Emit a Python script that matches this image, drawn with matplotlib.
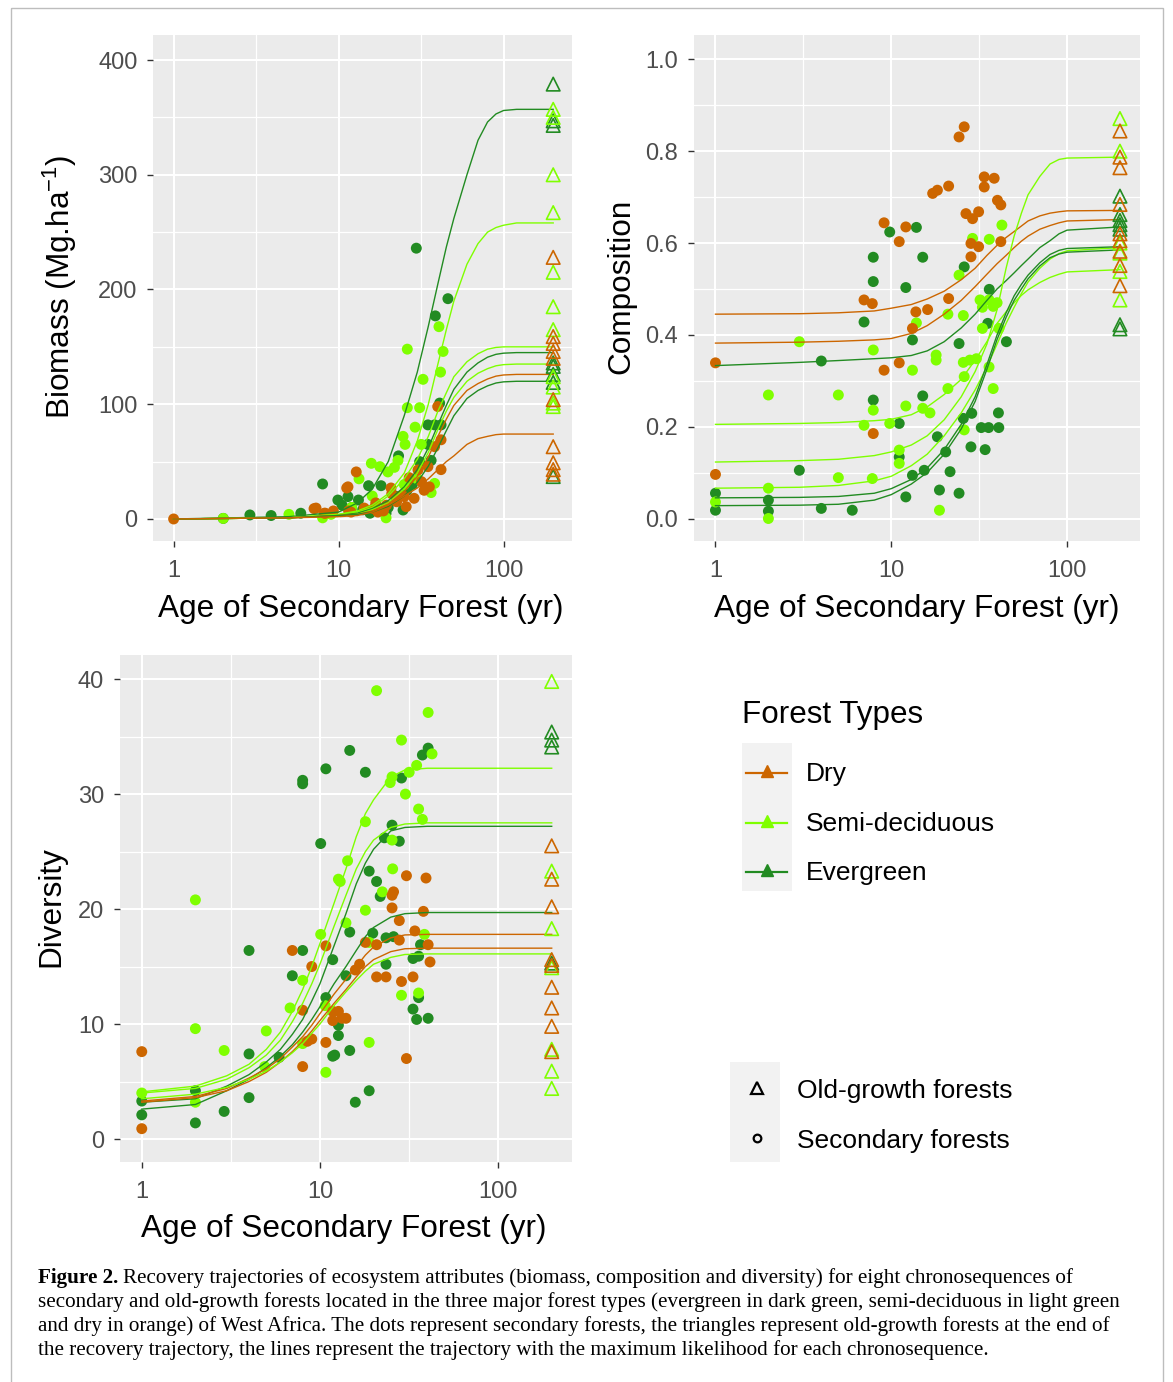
import matplotlib
matplotlib.use("Agg")
import matplotlib.pyplot as plt
from matplotlib.patches import Rectangle
from matplotlib.ticker import NullFormatter

# ---------------- DATA ----------------
FOREST_TYPES = ["Dry", "Semi-deciduous", "Evergreen"]
TYPE_COLORS = ["#CC6600", "#7FFF00", "#228B22"]
OG_AGE = 200  # old-growth plotted at end of trajectory

# Biomass: secondary forests (age, Mg/ha)
BIO_SEC_DRY = [(1, 0), (7.1, 9), (7.3, 9.5), (8.2, 5), (8.3, 5), (9.3, 7), (11.2, 27), (11.4, 28), (11.5, 7),
               (11.9, 6), (12.8, 41), (14.3, 9.5), (16.3, 9), (16.8, 14), (17.3, 6), (18.7, 7), (20.8, 27),
               (22.5, 15), (23.8, 20), (25, 19.5), (25.7, 10.7), (26.8, 36), (28.7, 18), (30.3, 42.7),
               (31.8, 32.5), (33, 25), (34.8, 45.6), (35.5, 28), (38.2, 63), (39.9, 98), (41.8, 69),
               (41.8, 43), (21, 22), (19.5, 12)]
BIO_SEC_SEMI = [(2, 0.5), (5, 4), (8, 1), (9, 4), (13.3, 35), (15.8, 48.5), (17.8, 45.6), (19.4, 1), (19.9, 41),
                (21.8, 45), (22.9, 51), (24.6, 72), (25.3, 65), (26.1, 148), (26.1, 97), (29.1, 80), (31, 97),
                (31.7, 65), (32.5, 121.7), (36.4, 23), (38.2, 31), (40.6, 167.6), (41.5, 128), (43, 146),
                (12, 10), (16, 20), (30, 35), (25, 30)]
BIO_SEC_EVER = [(2, 0.5), (2.9, 3.5), (3.9, 3), (5.9, 5), (8.0, 30.5), (9.9, 16.5), (10.5, 12), (11.4, 19.5),
                (12, 10), (13.2, 16.5), (14, 8), (15.2, 29), (15.5, 5), (18.1, 29), (19.4, 5), (20, 10),
                (23.1, 55), (24.6, 7.8), (26, 25), (29.6, 236), (31, 50), (34.8, 82), (34.8, 65), (36.4, 51),
                (38.2, 82), (38.6, 177), (41.8, 82), (41, 101), (46, 192), (28, 30), (22, 20)]
BIO_OG_DRY = [228, 159, 153, 146, 140, 104, 63, 49, 43, 39]
BIO_OG_SEMI = [357, 350, 300, 267, 215, 185, 165, 124, 115, 101, 98]
BIO_OG_EVER = [379, 347, 343, 136, 133, 126, 119, 37]
BIO_CURVE_AGES = [1, 5, 10, 13, 16, 20, 25, 30, 35, 40, 45, 50, 60, 70, 80, 90, 100, 120, 200]
BIO_CURVES = [
    ("Evergreen",      [0, 2, 6, 14, 26, 50, 90, 128, 168, 205, 237, 262, 300, 330, 346, 353, 356, 357, 357]),
    ("Semi-deciduous", [0, 1, 4, 7, 12, 22, 40, 68, 100, 135, 165, 190, 222, 240, 250, 254, 256, 258, 258]),
    ("Semi-deciduous", [0, 1, 4, 6, 10, 20, 35, 52, 72, 94, 110, 124, 137, 144, 148, 149.5, 150, 150, 150]),
    ("Evergreen",      [0, 1, 3, 5, 9, 16, 28, 43, 62, 82, 99, 113, 128, 136, 141, 143.5, 144.5, 145, 145]),
    ("Semi-deciduous", [0, 1, 3, 4, 8, 14, 26, 40, 58, 78, 94, 106, 120, 127, 131, 133.5, 134.5, 135, 135]),
    ("Dry",            [0, 1, 3, 4, 7, 13, 24, 37, 54, 72, 87, 99, 112, 118, 122, 124.5, 125.5, 126, 126]),
    ("Evergreen",      [0, 1, 3, 4, 6, 11, 20, 32, 46, 62, 77, 90, 105, 112, 116, 118.5, 119.5, 120, 120]),
    ("Dry",            [0, 1, 2, 3, 6, 12, 20, 27, 35, 43, 50, 55, 65, 70, 72, 73.5, 74, 74, 74]),
]

# Composition
COMP_SEC_DRY = [(26.0, 0.853), (24.3, 0.831), (33.8, 0.744), (38.5, 0.741), (33.8, 0.722), (17.2, 0.708),
                (18.3, 0.715), (21.2, 0.724), (40.2, 0.693), (42.0, 0.683), (26.6, 0.664), (29.0, 0.653),
                (31.4, 0.668), (9.1, 0.644), (12.1, 0.635), (11.1, 0.603), (28.4, 0.599), (31.4, 0.592),
                (42.0, 0.603), (28.4, 0.570), (7.0, 0.476), (7.8, 0.468), (13.8, 0.450), (16.1, 0.455),
                (21.2, 0.479), (13.2, 0.414), (1.0, 0.339), (9.1, 0.323), (11.1, 0.339), (7.9, 0.185),
                (1.0, 0.096)]
COMP_SEC_SEMI = [(42.6, 0.639), (36.1, 0.608), (29.0, 0.610), (24.3, 0.530), (32.0, 0.476), (36.0, 0.476),
                 (40.0, 0.470), (33.0, 0.460), (38.0, 0.462), (33.0, 0.414), (41.0, 0.414), (13.9, 0.426),
                 (21.0, 0.445), (25.7, 0.442), (3.0, 0.385), (7.9, 0.367), (18.0, 0.356), (18.0, 0.345),
                 (13.2, 0.323), (25.7, 0.340), (28.0, 0.345), (30.5, 0.348), (36.0, 0.330), (38.0, 0.283),
                 (2.0, 0.269), (5.0, 0.269), (7.9, 0.236), (12.1, 0.245), (15.1, 0.240), (16.6, 0.230),
                 (21.0, 0.283), (26.0, 0.309), (7.0, 0.203), (9.8, 0.207), (26.0, 0.193), (11.1, 0.149),
                 (11.1, 0.120), (7.8, 0.087), (5.0, 0.089), (2.0, 0.066), (1.0, 0.036), (2.0, 0.000),
                 (18.8, 0.018)]
COMP_SEC_EVER = [(9.8, 0.624), (13.9, 0.634), (7.9, 0.569), (15.1, 0.569), (7.9, 0.516), (12.1, 0.503),
                 (26.0, 0.548), (36.1, 0.499), (7.0, 0.428), (13.2, 0.389), (24.3, 0.381), (35.4, 0.425),
                 (45.2, 0.385), (4.0, 0.343), (7.9, 0.258), (15.1, 0.267), (11.1, 0.207), (28.7, 0.229),
                 (40.7, 0.230), (25.7, 0.218), (32.5, 0.198), (35.8, 0.198), (40.9, 0.198), (18.3, 0.178),
                 (20.4, 0.145), (28.4, 0.156), (34.2, 0.150), (11.1, 0.134), (3.0, 0.105), (21.6, 0.102),
                 (13.2, 0.094), (15.4, 0.105), (12.1, 0.047), (18.8, 0.062), (24.3, 0.055), (1.0, 0.055),
                 (1.0, 0.018), (2.0, 0.040), (2.0, 0.016), (4.0, 0.022), (6.0, 0.018)]
COMP_OG_DRY = [0.844, 0.787, 0.764, 0.684, 0.620, 0.605, 0.582, 0.551, 0.507]
COMP_OG_SEMI = [0.871, 0.800, 0.600, 0.578, 0.538, 0.476]
COMP_OG_EVER = [0.702, 0.662, 0.649, 0.640, 0.630, 0.422, 0.413]
COMP_CURVE_AGES = [1, 3, 5, 8, 10, 13, 16, 20, 25, 30, 35, 40, 45, 50, 55, 60, 70, 80, 90, 100, 200]
COMP_CURVES = [
    ("Dry",            [0.445, 0.446, 0.448, 0.452, 0.458, 0.466, 0.478, 0.495, 0.520, 0.545, 0.573, 0.595, 0.612, 0.625, 0.637, 0.648, 0.659, 0.665, 0.668, 0.670, 0.671]),
    ("Dry",            [0.382, 0.384, 0.386, 0.389, 0.392, 0.403, 0.420, 0.445, 0.475, 0.505, 0.532, 0.555, 0.573, 0.590, 0.604, 0.615, 0.630, 0.638, 0.644, 0.648, 0.651]),
    ("Evergreen",      [0.333, 0.340, 0.344, 0.348, 0.350, 0.355, 0.365, 0.385, 0.415, 0.445, 0.475, 0.500, 0.518, 0.535, 0.551, 0.565, 0.590, 0.605, 0.620, 0.628, 0.635]),
    ("Semi-deciduous", [0.205, 0.207, 0.209, 0.213, 0.216, 0.226, 0.243, 0.270, 0.303, 0.345, 0.385, 0.425, 0.450, 0.470, 0.486, 0.498, 0.514, 0.525, 0.532, 0.537, 0.542]),
    ("Semi-deciduous", [0.123, 0.126, 0.129, 0.137, 0.145, 0.160, 0.180, 0.215, 0.265, 0.320, 0.380, 0.455, 0.545, 0.615, 0.665, 0.705, 0.745, 0.772, 0.782, 0.785, 0.787]),
    ("Semi-deciduous", [0.066, 0.068, 0.072, 0.082, 0.092, 0.115, 0.140, 0.180, 0.230, 0.280, 0.330, 0.380, 0.425, 0.460, 0.490, 0.515, 0.545, 0.565, 0.577, 0.583, 0.590]),
    ("Evergreen",      [0.045, 0.046, 0.048, 0.055, 0.065, 0.085, 0.110, 0.150, 0.205, 0.265, 0.335, 0.400, 0.448, 0.485, 0.510, 0.530, 0.557, 0.575, 0.584, 0.588, 0.592]),
    ("Evergreen",      [0.028, 0.029, 0.031, 0.040, 0.052, 0.075, 0.100, 0.140, 0.195, 0.255, 0.325, 0.390, 0.438, 0.475, 0.500, 0.522, 0.550, 0.568, 0.576, 0.580, 0.585]),
]

# Diversity
DIV_SEC_DRY = [(30.6, 22.9), (39.4, 22.7), (25.9, 21.5), (25.4, 21.2), (25.4, 20.1), (27.9, 19.0), (38.1, 19.8),
               (27.9, 17.3), (34.1, 18.1), (40.5, 16.9), (18.0, 17.1), (20.8, 16.9), (10.8, 16.8), (7.0, 16.4),
               (16.7, 15.2), (15.8, 14.7), (9.0, 15.0), (41.5, 15.4), (20.8, 14.1), (23.5, 14.1), (28.7, 13.7),
               (33.3, 14.1), (11.8, 11.1), (12.7, 11.1), (13.3, 10.5), (11.8, 10.3), (14.0, 10.5), (8.0, 11.2),
               (9.0, 8.7), (8.5, 8.5), (10.8, 8.4), (8.0, 6.3), (30.6, 7.0), (1.0, 7.6), (1.0, 0.9)]
DIV_SEC_SEMI = [(20.8, 39.0), (40.5, 37.1), (28.7, 34.7), (34.9, 32.5), (31.7, 31.9), (42.6, 33.5), (25.4, 31.5),
                (24.8, 31.0), (30.2, 30.0), (35.8, 28.7), (37.6, 27.8), (18.0, 27.6), (25.4, 26.0), (14.3, 24.2),
                (12.7, 22.6), (13.0, 22.4), (25.6, 23.5), (2.0, 20.8), (18.0, 19.9), (22.4, 21.5), (14.0, 18.8),
                (10.1, 17.8), (18.9, 17.1), (38.6, 17.8), (8.0, 13.8), (28.7, 12.5), (35.8, 12.7), (6.8, 11.4),
                (10.7, 11.6), (2.0, 9.6), (5.0, 9.4), (2.9, 7.7), (18.9, 8.4), (8.0, 8.3), (10.8, 5.8),
                (4.9, 6.3), (2.0, 3.2), (1.0, 4.0)]
DIV_SEC_EVER = [(14.7, 33.8), (37.6, 33.4), (40.5, 34.0), (28.7, 31.4), (8.0, 31.2), (8.0, 30.9), (10.8, 32.2),
                (18.0, 31.9), (10.1, 25.7), (25.4, 27.3), (27.9, 25.9), (23.0, 26.2), (18.9, 23.3), (20.8, 22.4),
                (21.8, 21.1), (19.8, 17.9), (23.5, 17.5), (25.9, 17.6), (14.7, 18.0), (36.7, 16.9), (35.8, 15.9),
                (33.3, 15.7), (23.5, 15.2), (4.0, 16.4), (8.0, 16.4), (7.0, 14.2), (11.8, 15.6), (14.0, 14.2),
                (10.8, 12.3), (12.7, 9.0), (12.7, 9.9), (35.8, 12.3), (33.3, 11.3), (34.9, 10.4), (40.5, 10.5),
                (11.8, 7.2), (12.1, 7.3), (14.7, 7.7), (5.9, 7.1), (4.0, 7.4), (4.0, 3.6), (18.9, 4.2),
                (15.8, 3.2), (2.9, 2.4), (2.0, 4.2), (2.0, 1.4), (1.0, 3.3), (1.0, 2.1)]
DIV_OG_DRY = [25.5, 22.6, 20.2, 15.6, 15.1, 13.2, 11.4, 9.8, 7.6]
DIV_OG_SEMI = [39.8, 23.3, 18.3, 14.9, 7.8, 5.9, 4.4]
DIV_OG_EVER = [35.4, 34.7, 34.1, 15.3]
DIV_CURVE_AGES = [1, 2, 3, 4, 5, 6, 7, 8, 9, 10, 12, 14, 16, 18, 20, 25, 30, 40, 50, 200]
DIV_CURVES = [
    ("Semi-deciduous", [4.1, 4.6, 5.5, 6.5, 7.8, 9.3, 11.1, 13.0, 15.0, 17.0, 20.5, 23.5, 26.3, 28.3, 29.5, 31.5, 32.1, 32.25, 32.25, 32.25]),
    ("Semi-deciduous", [4.0, 4.4, 5.2, 6.2, 7.3, 8.6, 10.2, 11.8, 13.5, 15.2, 18.5, 21.2, 23.5, 25.0, 26.0, 27.1, 27.4, 27.5, 27.5, 27.5]),
    ("Evergreen",      [3.2, 3.5, 4.6, 5.6, 6.7, 7.8, 9.1, 10.4, 12.0, 13.5, 16.8, 19.6, 22.2, 24.0, 25.2, 26.8, 27.1, 27.2, 27.2, 27.2]),
    ("Evergreen",      [2.6, 3.0, 4.2, 5.2, 6.2, 7.2, 8.2, 9.3, 10.4, 11.5, 13.5, 15.0, 16.4, 17.6, 18.4, 19.3, 19.6, 19.7, 19.7, 19.7]),
    ("Dry",            [3.3, 3.7, 4.4, 5.3, 6.1, 7.0, 8.0, 8.9, 9.9, 10.9, 12.6, 13.9, 15.0, 16.0, 16.7, 17.5, 17.75, 17.8, 17.8, 17.8]),
    ("Dry",            [3.2, 3.6, 4.2, 5.0, 5.8, 6.7, 7.6, 8.5, 9.4, 10.3, 11.8, 13.0, 14.1, 15.0, 15.6, 16.3, 16.55, 16.6, 16.6, 16.6]),
    ("Semi-deciduous", [3.5, 3.9, 4.5, 5.2, 5.9, 6.7, 7.5, 8.3, 9.2, 10.0, 11.6, 12.8, 13.8, 14.6, 15.2, 15.8, 16.05, 16.1, 16.1, 16.1]),
]

CAPTION_LINES = [
    "Recovery trajectories of ecosystem attributes (biomass, composition and diversity) for eight chronosequences of",
    "secondary and old-growth forests located in the three major forest types (evergreen in dark green, semi-deciduous in light green",
    "and dry in orange) of West Africa. The dots represent secondary forests, the triangles represent old-growth forests at the end of",
    "the recovery trajectory, the lines represent the trajectory with the maximum likelihood for each chronosequence.",
]

# ---------------- FIGURE ----------------
W, H = 1173, 1382
plt.rcParams['font.family'] = ['Liberation Sans', 'DejaVu Sans']
plt.rcParams['mathtext.fontset'] = 'custom'
plt.rcParams['mathtext.rm'] = 'Liberation Sans'
plt.rcParams['mathtext.it'] = 'Liberation Sans:italic'
fig = plt.figure(figsize=(W / 100, H / 100), dpi=100, facecolor='white')
COL = dict(zip(FOREST_TYPES, TYPE_COLORS))


def add_ax(x0, y0, x1, y1):
    return fig.add_axes([x0 / W, 1 - y1 / H, (x1 - x0) / W, (y1 - y0) / H])


def style(ax, ylim, yticks, ylabels, yminor):
    ax.set_facecolor('#EBEBEB')
    ax.set_xscale('log')
    ax.set_xlim(10 ** -0.125, 10 ** 2.415)
    ax.set_ylim(*ylim)
    ax.set_xticks([1, 10, 100])
    ax.set_xticklabels(['1', '10', '100'])
    ax.set_xticks([10 ** 0.5, 10 ** 1.5], minor=True)
    ax.xaxis.set_minor_formatter(NullFormatter())
    ax.set_yticks(yticks)
    ax.set_yticklabels(ylabels)
    ax.set_yticks(yminor, minor=True)
    ax.yaxis.set_minor_formatter(NullFormatter())
    for s in ax.spines.values():
        s.set_visible(False)
    ax.grid(which='major', color='white', lw=1.5)
    ax.grid(which='minor', color='white', lw=0.9)
    ax.set_axisbelow(True)
    ax.tick_params(which='major', length=4, width=1.0, color='#333333',
                   labelsize=17, labelcolor='#4D4D4D', pad=7)
    ax.tick_params(axis='x', which='major', pad=10)
    ax.tick_params(which='minor', length=0)


def draw(ax, sec, og, curve_ages, curves):
    order = [2, 1, 0]
    for i in order:
        t = FOREST_TYPES[i]
        pts = sec[i]
        ax.scatter([p[0] for p in pts], [p[1] for p in pts], s=62, color=COL[t],
                   edgecolors='none', zorder=3)
    for t, vals in curves:
        ax.plot(curve_ages, vals, color=COL[t], lw=1.0, zorder=4)
    for i in order:
        t = FOREST_TYPES[i]
        vals = og[i]
        ax.scatter([OG_AGE] * len(vals), vals, marker='^', s=95, facecolors='none',
                   edgecolors=COL[t], linewidths=1.2, zorder=5)


ax1 = add_ax(153, 35, 572, 541)
style(ax1, (-19.2, 421.8), [0, 100, 200, 300, 400], ['0', '100', '200', '300', '400'], [50, 150, 250, 350])
draw(ax1, [BIO_SEC_DRY, BIO_SEC_SEMI, BIO_SEC_EVER], [BIO_OG_DRY, BIO_OG_SEMI, BIO_OG_EVER],
     BIO_CURVE_AGES, BIO_CURVES)

ax2 = add_ax(693.5, 35, 1140, 541)
style(ax2, (-0.049, 1.053), [0, 0.2, 0.4, 0.6, 0.8, 1.0], ['0.0', '0.2', '0.4', '0.6', '0.8', '1.0'],
      [0.1, 0.3, 0.5, 0.7, 0.9])
draw(ax2, [COMP_SEC_DRY, COMP_SEC_SEMI, COMP_SEC_EVER], [COMP_OG_DRY, COMP_OG_SEMI, COMP_OG_EVER],
     COMP_CURVE_AGES, COMP_CURVES)

ax3 = add_ax(119.5, 655, 572, 1162)
style(ax3, (-2.0, 42.1), [0, 10, 20, 30, 40], ['0', '10', '20', '30', '40'], [5, 15, 25, 35])
draw(ax3, [DIV_SEC_DRY, DIV_SEC_SEMI, DIV_SEC_EVER], [DIV_OG_DRY, DIV_OG_SEMI, DIV_OG_EVER],
     DIV_CURVE_AGES, DIV_CURVES)

# overlay for labels, legend, caption, border
ov = fig.add_axes([0, 0, 1, 1])
ov.set_xlim(0, W)
ov.set_ylim(H, 0)
ov.axis('off')

TITLE_FS = 22.7
ov.text(60, 287, r'Biomass (Mg.ha$^{-1}$)', rotation=90, ha='center', va='center', fontsize=TITLE_FS, color='black')
ov.text(621, 286, 'Composition', rotation=90, ha='center', va='center', fontsize=TITLE_FS, color='black')
ov.text(51.5, 907, 'Diversity', rotation=90, ha='center', va='center', fontsize=TITLE_FS, color='black')
xlab = 'Age of Secondary Forest (yr)'
ov.text(361, 609, xlab, ha='center', va='center', fontsize=TITLE_FS, color='black')
ov.text(917, 609, xlab, ha='center', va='center', fontsize=TITLE_FS, color='black')
ov.text(343.5, 1229, xlab, ha='center', va='center', fontsize=TITLE_FS, color='black')

# legend 1: forest types
ov.text(742, 715, 'Forest Types', ha='left', va='center', fontsize=22.6, color='black')
ov.add_patch(Rectangle((742, 743), 50, 148, facecolor='#F2F2F2', edgecolor='none'))
for k, t in enumerate(FOREST_TYPES):
    yc = 773 + k * 49.5
    ov.plot([746, 787], [yc, yc], color=COL[t], lw=1.6)
    ov.plot([766.5], [yc - 2], marker='^', ms=9, color=COL[t], mec=COL[t])
    ov.text(806, yc + 1, t, ha='left', va='center', fontsize=19, color='black')

# legend 2: forest state
ov.add_patch(Rectangle((730, 1062), 50, 100, facecolor='#F2F2F2', edgecolor='none'))
ov.plot([756.5], [1088], marker='^', ms=8, mfc='none', mec='black', mew=1.6)
ov.plot([756.5], [1138], marker='o', ms=5.5, mfc='none', mec='black', mew=1.6)
ov.text(797, 1091, 'Old-growth forests', ha='left', va='center', fontsize=19, color='black')
ov.text(797, 1141, 'Secondary forests', ha='left', va='center', fontsize=19, color='black')

# border
ov.add_patch(Rectangle((10.5, 8), 1152.5, 1400, fill=False, edgecolor='#BDBDBD', lw=1.0))

# caption
fig.canvas.draw()
renderer = fig.canvas.get_renderer()
CAP_FONT = ['Liberation Serif', 'DejaVu Serif']
probe = ov.text(0, 0, CAPTION_LINES[1], fontsize=14, family=CAP_FONT)
pw = probe.get_window_extent(renderer).width
probe.remove()
cap_fs = 14 * 1089.0 / pw
cap_y = [1278, 1302, 1326, 1350]
fb = ov.text(38, cap_y[0], 'Figure 2.', fontsize=cap_fs, family=CAP_FONT, weight='bold',
             ha='left', va='center', color='black')
bb = fb.get_window_extent(renderer)
ov.text(bb.x1 + cap_fs * 0.3, cap_y[0], CAPTION_LINES[0], fontsize=cap_fs, family=CAP_FONT,
        ha='left', va='center', color='black')
for k in range(1, 4):
    ov.text(38, cap_y[k], CAPTION_LINES[k], fontsize=cap_fs, family=CAP_FONT,
            ha='left', va='center', color='black')

fig.savefig('out.png', dpi=100, facecolor='white')
